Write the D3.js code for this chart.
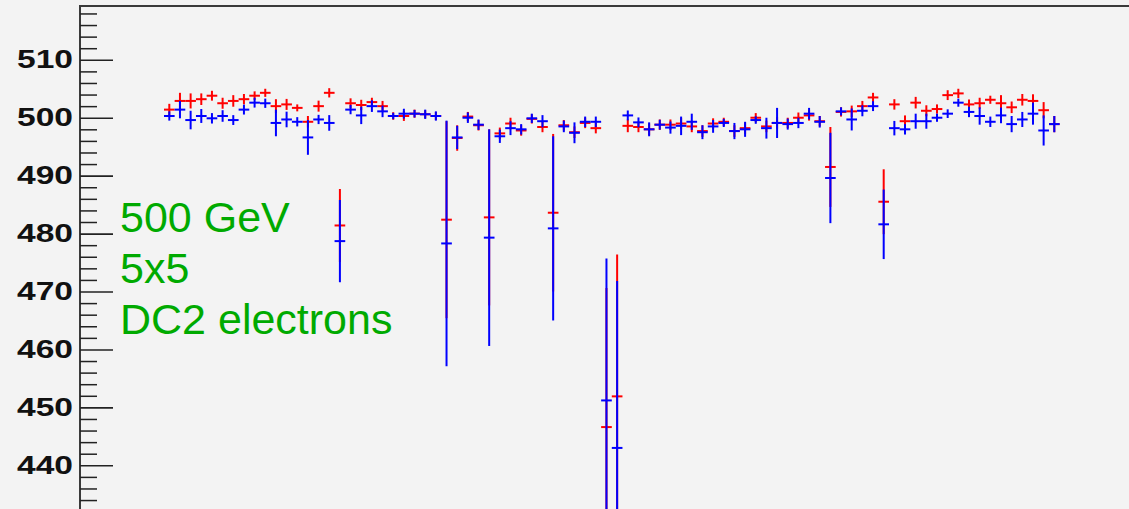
<!DOCTYPE html>
<html>
<head>
<meta charset="utf-8">
<script src="https://cdn.jsdelivr.net/npm/d3@7"></script>
<style>
  html, body { margin: 0; padding: 0; background: #f3f3f3; }
  svg { display: block; }
</style>
</head>
<body>
<svg id="chart" width="1129" height="509"></svg>
<script>
// ---- data ----
const binIndex = d3.range(0, 84);

const redValues = [
  501.4, 502.9, 502.9, 503.2, 503.8, 502.5, 502.9, 503.2, 503.8, 504.3,
  502.0, 502.3, 501.7, 499.3, 502.0, 504.3, 481.4, 502.5, 502.2, 502.7,
  502.0, 500.3, 500.3, 500.7, 500.6, 500.3, 482.4, 496.5, 500.2, 498.7,
  482.8, 497.3, 499.0, 497.8, 499.8, 498.4, 483.6, 498.7, 497.5, 499.1,
  498.2, 446.6, 451.9, 498.6, 498.4, 498.0, 498.8, 498.8, 499.0, 498.5,
  497.7, 499.0, 499.3, 497.7, 498.2, 500.0, 498.5, 499.1, 499.1, 500.0,
  500.4, 499.4, 491.5, 501.0, 501.1, 502.0, 503.5, 485.5, 502.3, 499.4,
  502.6, 501.2, 501.5, 503.9, 504.2, 502.3, 502.5, 503.1, 502.5, 501.8,
  503.1, 502.9, 501.3, 498.9
];
const redErrors = [
  1.0, 1.4, 1.3, 1.0, 0.85, 0.95, 1.0, 0.9, 0.75, 0.7,
  1.2, 0.95, 0.6, 1.0, 0.95, 0.8, 6.3, 0.85, 0.9, 0.75,
  0.9, 0.65, 0.85, 0.7, 0.7, 0.7, 17.0, 2.2, 0.8, 0.9,
  15.2, 1.0, 1.0, 0.9, 0.8, 0.9, 13.6, 0.9, 1.0, 0.9,
  0.9, 24.0, 24.5, 1.1, 0.9, 1.0, 0.9, 0.9, 1.0, 1.0,
  1.0, 0.9, 0.7, 1.0, 1.0, 0.8, 1.0, 1.0, 0.9, 0.9,
  0.9, 0.9, 6.9, 0.8, 1.0, 0.9, 0.8, 5.6, 0.9, 1.0,
  1.0, 0.95, 0.8, 0.85, 0.8, 0.85, 0.95, 0.7, 1.4, 1.0,
  1.0, 1.15, 1.4, 1.4
];
const blueValues = [
  500.3, 501.4, 499.6, 500.3, 499.9, 500.3, 499.6, 501.4, 502.6, 502.5,
  499.1, 499.7, 499.3, 496.6, 499.7, 499.1, 478.7, 501.4, 500.4, 502.0,
  501.1, 500.3, 500.7, 500.7, 500.6, 500.3, 478.3, 496.6, 500.0, 498.8,
  479.3, 496.8, 498.2, 498.0, 499.9, 499.4, 480.9, 498.5, 497.4, 499.3,
  499.3, 451.2, 443.0, 500.4, 499.2, 498.0, 498.8, 498.3, 498.6, 499.3,
  497.5, 498.5, 499.1, 497.7, 498.0, 499.6, 498.2, 499.1, 498.9, 499.1,
  500.7, 499.3, 489.6, 501.1, 499.7, 501.2, 502.0, 481.6, 498.2, 498.0,
  499.4, 499.4, 500.0, 500.7, 502.6, 501.0, 500.3, 499.3, 500.4, 498.9,
  499.7, 500.7, 497.8, 498.9
];
const blueErrors = [
  0.8, 1.5, 1.6, 1.2, 0.9, 1.0, 0.85, 0.85, 0.85, 0.8,
  2.3, 1.35, 0.8, 3.0, 0.8, 1.35, 7.1, 0.8, 1.5, 1.0,
  1.0, 0.55, 0.85, 0.65, 0.8, 0.8, 21.2, 2.0, 0.9, 0.9,
  18.7, 1.15, 1.2, 0.9, 0.8, 1.05, 15.9, 1.0, 1.8, 0.9,
  0.9, 24.5, 28.8, 0.85, 0.85, 1.2, 0.85, 1.05, 1.6, 1.4,
  1.2, 1.1, 0.7, 1.4, 1.3, 0.65, 1.8, 2.6, 0.95, 0.9,
  1.0, 1.0, 7.8, 0.7, 1.9, 0.95, 0.85, 6.0, 1.25, 0.9,
  1.3, 1.3, 0.7, 0.75, 0.7, 0.9, 1.5, 0.9, 1.35, 1.4,
  1.3, 1.9, 2.6, 1.4
];

const majorTicks = [440, 450, 460, 470, 480, 490, 500, 510];
const minorTicks = d3.range(432, 520, 2).filter(v => v % 10 !== 0);
const labelLines = ["500 GeV", "5x5", "DC2 electrons"];

// ---- layout ----
const svg = d3.select("#chart");
const W = 1129, H = 509;
const frameLeft = 80, frameTop = 6;

svg.append("rect").attr("width", W).attr("height", H).attr("fill", "#f3f3f3");

const x = d3.scaleLinear().domain([0, 83]).range([169.3, 1054.3]);
const y = d3.scaleLinear().domain([440, 510]).range([465.3, 59.8]);
const binW = x(1) - x(0);

// frame lines
svg.append("line")
  .attr("x1", frameLeft).attr("x2", frameLeft)
  .attr("y1", frameTop).attr("y2", H + 5)
  .attr("stroke", "#3a3a3a").attr("stroke-width", 2);
svg.append("line")
  .attr("x1", frameLeft - 1).attr("x2", W + 5)
  .attr("y1", frameTop).attr("y2", frameTop)
  .attr("stroke", "#3a3a3a").attr("stroke-width", 2);

// minor ticks
const minorAxis = d3.axisRight(y).tickValues(minorTicks).tickSize(17).tickFormat("");
const gMinor = svg.append("g").attr("transform", `translate(${frameLeft},0)`).call(minorAxis);
gMinor.select(".domain").remove();
gMinor.selectAll("line").attr("stroke", "#222").attr("stroke-width", 1.5);

// major ticks + labels
const majorAxis = d3.axisLeft(y).tickValues(majorTicks).tickSizeInner(-33).tickSizeOuter(0).tickPadding(7);
const gMajor = svg.append("g").attr("transform", `translate(${frameLeft},0)`).call(majorAxis);
gMajor.select(".domain").remove();
gMajor.selectAll("line").attr("stroke", "#222").attr("stroke-width", 1.6);
gMajor.selectAll("text")
  .attr("font-family", "Liberation Sans, Arial, sans-serif")
  .attr("font-weight", "bold")
  .attr("font-size", 25)
  .attr("fill", "#111")
  .attr("textLength", 56)
  .attr("lengthAdjust", "spacingAndGlyphs");

// error-bar crosses
function drawSeries(values, errors, color) {
  const g = svg.append("g").attr("stroke", color).attr("stroke-width", 2);
  g.selectAll("line.h").data(binIndex).join("line").attr("class", "h")
    .attr("x1", i => x(i) - binW / 2).attr("x2", i => x(i) + binW / 2)
    .attr("y1", i => y(values[i])).attr("y2", i => y(values[i]));
  g.selectAll("line.v").data(binIndex).join("line").attr("class", "v")
    .attr("x1", i => x(i)).attr("x2", i => x(i))
    .attr("y1", i => y(values[i] + errors[i])).attr("y2", i => y(values[i] - errors[i]));
}
drawSeries(redValues, redErrors, "#ff0000");
drawSeries(blueValues, blueErrors, "#0000ff");

// label text
svg.append("g").selectAll("text").data(labelLines).join("text")
  .attr("x", 120)
  .attr("y", (d, i) => 231.5 + i * 51)
  .attr("font-family", "Liberation Sans, Arial, sans-serif")
  .attr("font-size", 43)
  .attr("fill", "#00aa00")
  .text(d => d);
</script>
</body>
</html>
